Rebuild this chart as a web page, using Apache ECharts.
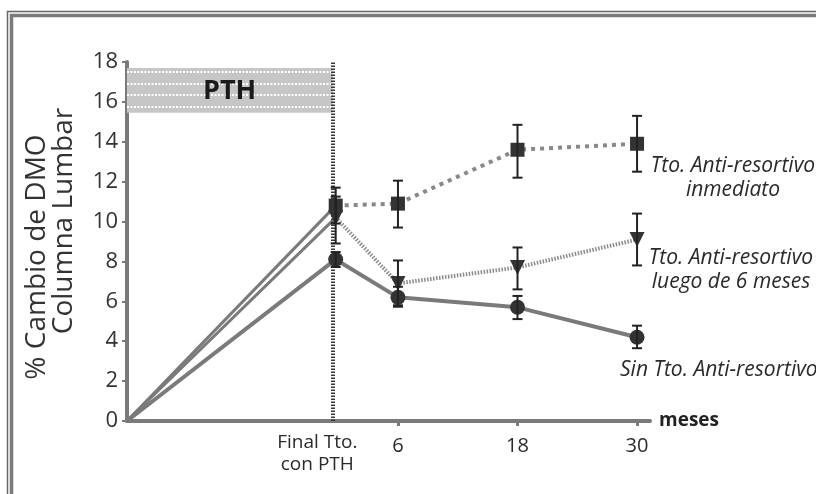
<!DOCTYPE html>
<html>
<head>
<meta charset="utf-8">
<script src="https://cdn.jsdelivr.net/npm/echarts@6/dist/echarts.min.js"></script>
<style>
html,body{margin:0;padding:0;background:#fff;}
#c{width:816px;height:494px;}
</style>
</head>
<body>
<div id="c"></div>
<script>
// x positions: origin (start of PTH), end of PTH treatment, 6, 18, 30 months
const xPositions = [-21.2, -0.25, 6, 18, 30];
const xTickValues = [6, 18, 30];
const xLabelValues = [-2.1, 6, 18, 30];
const xLabelTexts = ['Final Tto.\ncon PTH', '6', '18', '30'];
const endPthX = -0.55;

// % change in lumbar spine BMD
const sinTto = [0, 8.1, 6.2, 5.7, 4.2];
const sinLow = [null, 7.72, 5.73, 5.11, 3.65];
const sinHigh = [null, 8.47, 6.73, 6.27, 4.78];

const inmediato = [0, 10.8, 10.9, 13.6, 13.9];
const inmLow = [null, 9.9, 9.7, 12.2, 12.5];
const inmHigh = [null, 11.7, 12.05, 14.85, 15.3];

const luego = [0, 10.2, 6.9, 7.7, 9.1];
const lueLow = [null, 8.9, 5.8, 6.6, 7.8];
const lueHigh = [null, 11.25, 8.05, 8.7, 10.4];

// PTH band
const pthBand = [15.45, 17.7];
const pthStripes = [17.5, 16.9, 16.35, 15.75];
const pthLabelPos = [-10.9, 16.55];

const FONT = "'Open Sans', 'DejaVu Sans', sans-serif";
const TXT = '#2a2a2a';

function pts(vals, from) {
  const out = [];
  for (let i = from; i < vals.length; i++) {
    out.push(i === 0 ? { value: [xPositions[i], vals[i]], symbol: 'none' } : [xPositions[i], vals[i]]);
  }
  return out;
}
function errData(lo, hi) {
  const out = [];
  for (let i = 0; i < lo.length; i++) {
    if (lo[i] != null) out.push([xPositions[i], lo[i], hi[i]]);
  }
  return out;
}
function errRender(params, api) {
  const x = api.value(0), lo = api.value(1), hi = api.value(2);
  const a = api.coord([x, lo]), b = api.coord([x, hi]);
  const hw = 5;
  const st = { stroke: '#222', lineWidth: 2 };
  return {
    type: 'group',
    children: [
      { type: 'line', shape: { x1: a[0], y1: a[1], x2: b[0], y2: b[1] }, style: st },
      { type: 'line', shape: { x1: a[0] - hw, y1: a[1], x2: a[0] + hw, y2: a[1] }, style: st },
      { type: 'line', shape: { x1: b[0] - hw, y1: b[1], x2: b[0] + hw, y2: b[1] }, style: st }
    ]
  };
}

const chart = echarts.init(document.getElementById('c'), null, { renderer: 'canvas' });

const stripeLines = pthStripes.map(v => [{ coord: [xPositions[0], v] }, { coord: [endPthX, v] }]);

chart.setOption({
  animation: false,
  backgroundColor: '#fff',
  grid: { left: 127, right: 166, top: 62, bottom: 73 },
  xAxis: {
    type: 'value',
    min: -21.2,
    max: 31.3,
    splitLine: { show: false },
    axisLine: { show: true, onZero: true, lineStyle: { color: '#7a7a7a', width: 4 } },
    axisTick: { show: true, customValues: xTickValues, length: 5, lineStyle: { color: '#7a7a7a', width: 3 } },
    axisLabel: {
      customValues: xLabelValues,
      margin: 11,
      formatter: function (v) {
        const i = xLabelValues.indexOf(v);
        const t = i >= 0 ? xLabelTexts[i] : '';
        return i === 0 ? '{f|' + t.replace('\n', '}\n{f|') + '}' : '{n|' + t + '}';
      },
      rich: {
        f: { fontSize: 19, lineHeight: 22, color: TXT, fontFamily: FONT },
        n: { fontSize: 20, lineHeight: 20, color: TXT, fontFamily: FONT, padding: [8, 0, 0, 0] }
      }
    },
    name: 'meses',
    nameLocation: 'end',
    nameGap: 9,
    nameTextStyle: { fontSize: 19, fontWeight: 'bold', color: '#222', fontFamily: FONT, verticalAlign: 'middle' }
  },
  yAxis: {
    type: 'value',
    min: 0,
    max: 18,
    interval: 2,
    splitLine: { show: false },
    axisLine: { show: true, onZero: false, lineStyle: { color: '#7a7a7a', width: 4 } },
    axisTick: { show: true, length: 5, lineStyle: { color: '#7a7a7a', width: 2 } },
    axisLabel: { fontSize: 22, color: '#333', fontFamily: FONT, margin: 9 }
  },
  graphic: [
    { type: 'rect', silent: true, z: 100, shape: { x: 7.5, y: 11.5, width: 900, height: 600 }, style: { fill: 'none', stroke: '#666', lineWidth: 1.5 } },
    { type: 'rect', silent: true, z: 100, shape: { x: 11.5, y: 15.5, width: 900, height: 600 }, style: { fill: 'none', stroke: '#7a7a7a', lineWidth: 3.5 } },
    { type: 'text', silent: true, x: 37, y: 257, rotation: Math.PI / 2,
      style: { text: '% Cambio de DMO', font: '28px ' + FONT, fill: '#333', align: 'center', verticalAlign: 'middle' } },
    { type: 'text', silent: true, x: 64, y: 221, rotation: Math.PI / 2,
      style: { text: 'Columna Lumbar', font: '28px ' + FONT, fill: '#333', align: 'center', verticalAlign: 'middle' } },
    { type: 'text', silent: true, x: 733, y: 178,
      style: { text: 'Tto. Anti-resortivo\ninmediato', font: 'italic 21px ' + FONT, lineHeight: 24, fill: TXT, align: 'center', verticalAlign: 'middle' } },
    { type: 'text', silent: true, x: 731, y: 270,
      style: { text: 'Tto. Anti-resortivo\nluego de 6 meses', font: 'italic 21px ' + FONT, lineHeight: 24, fill: TXT, align: 'center', verticalAlign: 'middle' } },
    { type: 'text', silent: true, x: 620, y: 370,
      style: { text: 'Sin Tto. Anti-resortivo', font: 'italic 21px ' + FONT, fill: TXT, align: 'left', verticalAlign: 'middle' } }
  ],
  series: [
    {
      name: 'band', type: 'line', data: [], silent: true, z: 1,
      markArea: {
        silent: true,
        itemStyle: { color: '#c6c6c6' },
        data: [[{ coord: [xPositions[0], pthBand[0]] }, { coord: [endPthX, pthBand[1]] }]]
      },
      markLine: {
        silent: true, symbol: 'none', label: { show: false },
        lineStyle: { color: '#fff', width: 2, type: [2, 1.5] },
        data: stripeLines
      }
    },
    {
      name: 'endline', type: 'line', data: [], silent: true, z: 3,
      markLine: {
        silent: true, symbol: 'none', label: { show: false },
        lineStyle: { color: '#3a3a3a', width: 4, type: [1.5, 1.5] },
        data: [[{ coord: [endPthX, 0] }, { coord: [endPthX, 18] }]]
      }
    },
    {
      name: 'pthLabel', type: 'scatter', silent: true, z: 8,
      data: [pthLabelPos],
      symbolSize: 1,
      itemStyle: { color: '#1a1a1a', opacity: 0 },
      label: { show: true, opacity: 1, position: 'inside', formatter: 'PTH', fontSize: 27, fontWeight: 'bold', color: '#1a1a1a', fontFamily: FONT }
    },
    { name: 'inm0', type: 'line', data: pts(inmediato, 0).slice(0, 2), symbol: 'none', lineStyle: { color: '#7a7a7a', width: 3 }, z: 4 },
    { name: 'lue0', type: 'line', data: pts(luego, 0).slice(0, 2), symbol: 'none', lineStyle: { color: '#7a7a7a', width: 3 }, z: 4 },
    {
      name: 'Tto. Anti-resortivo luego de 6 meses', type: 'line', data: pts(luego, 1),
      symbol: 'triangle', symbolRotate: 180, symbolSize: 15,
      itemStyle: { color: '#333' },
      lineStyle: { color: '#8a8a8a', width: 4, type: [1.5, 1.5] }, z: 5
    },
    {
      name: 'Tto. Anti-resortivo inmediato', type: 'line', data: pts(inmediato, 1),
      symbol: 'rect', symbolSize: 14,
      itemStyle: { color: '#333' },
      lineStyle: { color: '#888', width: 4, type: [4, 5] }, z: 5
    },
    {
      name: 'Sin Tto. Anti-resortivo', type: 'line', data: pts(sinTto, 0),
      symbol: 'circle', symbolSize: 15,
      itemStyle: { color: '#333' },
      lineStyle: { color: '#7a7a7a', width: 4 }, z: 5
    },
    { name: 'errSin', type: 'custom', renderItem: errRender, encode: { x: 0, y: [1, 2] }, data: errData(sinLow, sinHigh), z: 6 },
    { name: 'errInm', type: 'custom', renderItem: errRender, encode: { x: 0, y: [1, 2] }, data: errData(inmLow, inmHigh), z: 6 },
    { name: 'errLue', type: 'custom', renderItem: errRender, encode: { x: 0, y: [1, 2] }, data: errData(lueLow, lueHigh), z: 6 }
  ]
});
</script>
</body>
</html>
